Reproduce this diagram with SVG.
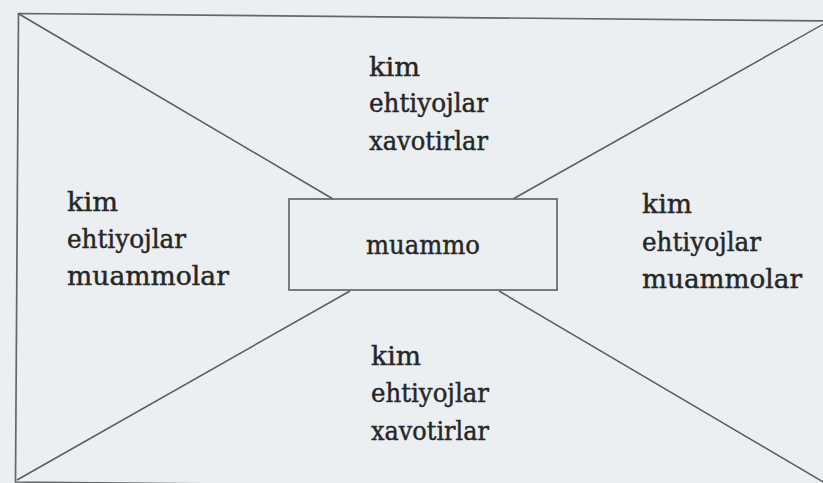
<svg xmlns="http://www.w3.org/2000/svg" width="823" height="483" viewBox="0 0 823 483">
  <style>
    .bg { fill: #ebeff2; }
    .frame { fill: none; stroke: #62676c; stroke-width: 1.7; }
    .box { fill: none; stroke: #62676c; stroke-width: 1.7; }
    .conn { stroke: #585d62; stroke-width: 1.5; fill: none; }
    .t { font-family: "DejaVu Serif", "Liberation Serif", serif; font-size: 25.5px; fill: #262626; stroke: #262626; stroke-width: 0.45; }
  </style>
  <rect class="bg" x="0" y="0" width="823" height="483"/>
  <g id="frame">
    <polygon class="frame" points="18.5,13.5 832,21 830,490 15.5,482"/>
  </g>
  <g id="connectors">
    <line class="conn" x1="19" y1="14" x2="333" y2="199"/>
    <line class="conn" x1="513" y1="199" x2="835" y2="17.5"/>
    <line class="conn" x1="350" y1="291" x2="17" y2="480"/>
    <line class="conn" x1="499" y1="291" x2="835" y2="489"/>
  </g>
  <g id="center">
    <rect class="box" x="289" y="199" width="268" height="91"/>
    <text class="t" x="366" y="254" textLength="114" lengthAdjust="spacingAndGlyphs">muammo</text>
  </g>
  <g id="top">
    <text class="t" x="369" y="76" textLength="51" lengthAdjust="spacingAndGlyphs">kim</text>
    <text class="t" x="369" y="112" textLength="119" lengthAdjust="spacingAndGlyphs">ehtiyojlar</text>
    <text class="t" x="369" y="150" textLength="119" lengthAdjust="spacingAndGlyphs">xavotirlar</text>
  </g>
  <g id="left">
    <text class="t" x="67" y="211" textLength="51" lengthAdjust="spacingAndGlyphs">kim</text>
    <text class="t" x="67" y="248" textLength="119" lengthAdjust="spacingAndGlyphs">ehtiyojlar</text>
    <text class="t" x="67" y="285" textLength="162" lengthAdjust="spacingAndGlyphs">muammolar</text>
  </g>
  <g id="right">
    <text class="t" x="642" y="213" textLength="50" lengthAdjust="spacingAndGlyphs">kim</text>
    <text class="t" x="642" y="251" textLength="119" lengthAdjust="spacingAndGlyphs">ehtiyojlar</text>
    <text class="t" x="642" y="288" textLength="160" lengthAdjust="spacingAndGlyphs">muammolar</text>
  </g>
  <g id="bottom">
    <text class="t" x="371" y="365" textLength="50" lengthAdjust="spacingAndGlyphs">kim</text>
    <text class="t" x="371" y="402" textLength="118" lengthAdjust="spacingAndGlyphs">ehtiyojlar</text>
    <text class="t" x="371" y="440" textLength="118" lengthAdjust="spacingAndGlyphs">xavotirlar</text>
  </g>
</svg>
